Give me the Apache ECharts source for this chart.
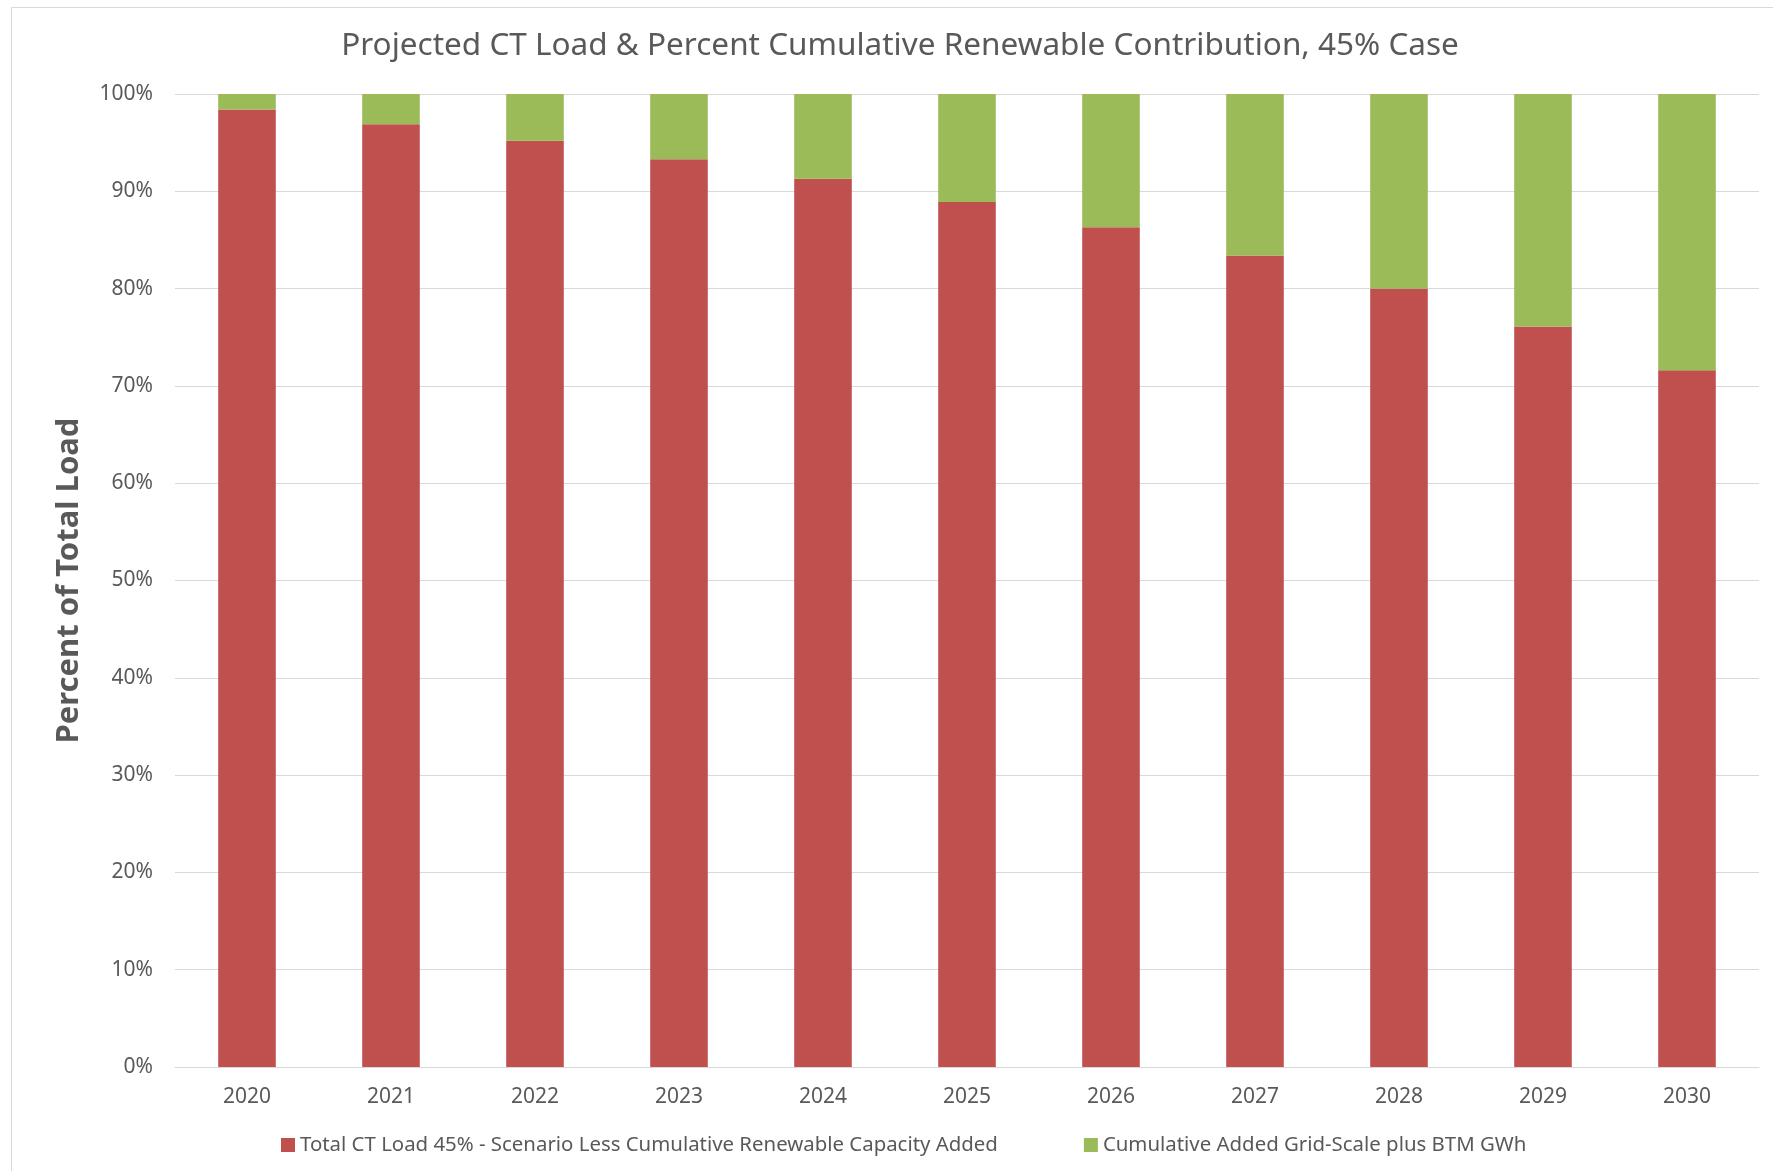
<!DOCTYPE html>
<html>
<head>
<meta charset="utf-8">
<title>Projected CT Load & Percent Cumulative Renewable Contribution</title>
<script src="https://cdn.jsdelivr.net/npm/echarts@6/dist/echarts.min.js"></script>
<style>
  html, body { margin: 0; padding: 0; background: #fff; }
  #chart { width: 1773px; height: 1171px; }
</style>
</head>
<body>
<div id="chart"></div>
<script>
// Years on the category axis
const years = ['2020', '2021', '2022', '2023', '2024', '2025', '2026', '2027', '2028', '2029', '2030'];

// Share of total load (%) remaining after cumulative renewable additions
const loadLessRenewables = [98.4, 96.9, 95.2, 93.3, 91.3, 88.9, 86.3, 83.4, 80.0, 76.1, 71.6];

// Share of total load (%) met by cumulative grid-scale plus BTM additions
const renewableShare = [1.6, 3.1, 4.8, 6.7, 8.7, 11.1, 13.7, 16.6, 20.0, 23.9, 28.4];

// Percent tick values on the value axis
const yTicks = [0, 10, 20, 30, 40, 50, 60, 70, 80, 90, 100];

const seriesNames = [
  'Total CT Load 45% - Scenario Less Cumulative Renewable Capacity Added',
  'Cumulative Added Grid-Scale plus BTM GWh'
];

const FONT = '"Noto Sans", "Open Sans", sans-serif';
const TEXT = '#595959';

const chart = echarts.init(document.getElementById('chart'), null, { renderer: 'canvas' });

chart.setOption({
  backgroundColor: '#ffffff',
  animation: false,
  title: {
    text: 'Projected CT Load & Percent Cumulative Renewable Contribution, 45% Case',
    left: 900,
    textAlign: 'center',
    top: 28,
    padding: 0,
    textStyle: {
      fontFamily: FONT,
      fontSize: 31.5,
      fontWeight: 'normal',
      color: TEXT,
      lineHeight: 36
    }
  },
  graphic: [{
    type: 'rect',
    silent: true,
    z: -1,
    shape: { x: 11.5, y: 7.5, width: 1800, height: 1200 },
    style: { fill: 'none', stroke: '#d9d9d9', lineWidth: 1 }
  }],
  legend: {
    left: 281,
    top: 1135,
    padding: 0,
    itemWidth: 14,
    itemHeight: 14,
    itemGap: 86,
    icon: 'rect',
    textStyle: { fontFamily: FONT, fontSize: 20.4, color: TEXT },
    data: seriesNames
  },
  grid: {
    left: 175,
    right: 14,
    top: 94,
    bottom: 104,
    containLabel: false
  },
  xAxis: {
    type: 'category',
    data: years,
    axisTick: { show: false },
    axisLine: { show: true, lineStyle: { color: '#d9d9d9', width: 1 } },
    axisLabel: { fontFamily: FONT, fontSize: 21, color: TEXT, margin: 20 }
  },
  yAxis: {
    type: 'value',
    min: yTicks[0],
    max: yTicks[yTicks.length - 1],
    interval: yTicks[1] - yTicks[0],
    name: 'Percent of Total Load',
    nameLocation: 'middle',
    nameGap: 90,
    nameTextStyle: {
      fontFamily: FONT,
      fontSize: 31,
      fontWeight: 'bold',
      color: TEXT
    },
    axisLine: { show: false },
    axisTick: { show: false },
    splitLine: { lineStyle: { color: '#d9d9d9', width: 1 } },
    axisLabel: {
      fontFamily: FONT,
      fontSize: 21,
      color: TEXT,
      margin: 22,
      formatter: '{value}%'
    }
  },
  series: [
    {
      name: seriesNames[0],
      type: 'bar',
      stack: 'total',
      barWidth: '40%',
      data: loadLessRenewables,
      itemStyle: { color: '#c0504d' }
    },
    {
      name: seriesNames[1],
      type: 'bar',
      stack: 'total',
      barWidth: '40%',
      data: renewableShare,
      itemStyle: { color: '#9bbb59' }
    }
  ]
});
</script>
</body>
</html>
